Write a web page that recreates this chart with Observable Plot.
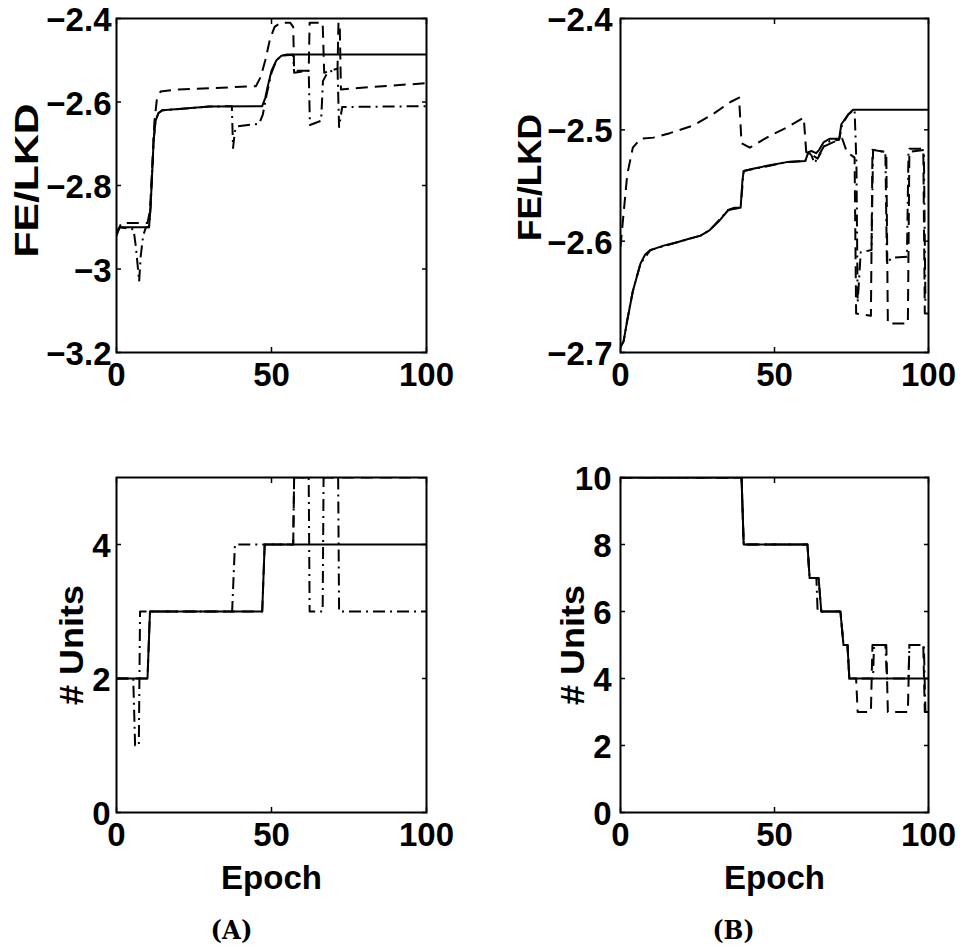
<!DOCTYPE html>
<html><head><meta charset="utf-8">
<script src="https://cdn.jsdelivr.net/npm/d3@7"></script>
<script src="https://cdn.jsdelivr.net/npm/@observablehq/plot@0.6"></script>
<style>
body{margin:0;background:#fff;}
#fig{position:relative;width:960px;height:946px;background:#fff;overflow:hidden;}
#fig svg{position:absolute;overflow:visible;}
</style></head><body><div id="fig"></div>
<script>
// ---- data: [epoch, value] ----
const xTicks = [0, 50, 100];
const feTicksA = [-3.2, -3, -2.8, -2.6, -2.4];
const feTicksB = [-2.7, -2.6, -2.5, -2.4];
const unitTicksA = [0, 2, 4];
const unitTicksB = [0, 2, 4, 6, 8, 10];

const feA_solid = [[0,-2.915],[1,-2.90],[10.5,-2.90],[11,-2.85],[11.5,-2.77],[12,-2.69],[12.6,-2.645],[13.5,-2.627],[14.7,-2.62],[20,-2.617],[25,-2.614],[30,-2.611],[47,-2.61],[48,-2.59],[48.7,-2.565],[50,-2.525],[51.6,-2.50],[53.2,-2.489],[55,-2.486],[100,-2.486]];
const feA_dashed = [[0,-2.92],[1.5,-2.89],[10,-2.89],[10.8,-2.86],[11.5,-2.76],[12.2,-2.65],[13,-2.595],[14.2,-2.575],[20,-2.57],[30,-2.567],[45,-2.562],[46.5,-2.54],[48,-2.50],[49.5,-2.45],[51,-2.42],[53,-2.41],[56,-2.41],[57,-2.42],[57.3,-2.525],[62,-2.525],[62.3,-2.41],[66.5,-2.41],[67,-2.53],[71.3,-2.52],[71.6,-2.41],[72,-2.41],[72.4,-2.57],[80,-2.565],[100,-2.555]];
const feA_dashdot = [[0,-2.91],[1,-2.90],[5.5,-2.905],[6.3,-2.95],[7.3,-3.03],[7.8,-2.97],[8.6,-2.92],[9.5,-2.90],[10.5,-2.90],[11,-2.85],[11.5,-2.77],[12,-2.69],[12.6,-2.645],[13.5,-2.627],[14.7,-2.62],[30,-2.611],[37.2,-2.61],[37.6,-2.71],[38.2,-2.67],[39,-2.658],[46,-2.652],[47.2,-2.63],[48.5,-2.58],[50,-2.53],[51.6,-2.50],[53.2,-2.489],[57,-2.487],[57.3,-2.53],[62,-2.525],[62.4,-2.655],[66,-2.645],[66.6,-2.55],[68,-2.53],[71.3,-2.52],[71.8,-2.66],[72.8,-2.612],[100,-2.61]];

const unA_solid = [[0,2],[10,2],[10.8,3],[47,3],[47.8,4],[100,4]];
const unA_dashed = [[0,2],[10,2],[10.8,3],[47,3],[47.8,4],[57,4],[57.3,5],[62,5],[62.3,6],[66.5,6],[67,5],[71.5,5],[71.8,6],[72.2,5],[100,5]];
const unA_dashdot = [[0,2],[5.4,2],[6,1],[7.2,1],[7.6,3],[37.3,3],[38.2,4],[57,4],[57.3,5],[62,5],[62.3,3],[66.5,3],[66.8,5],[71.5,5],[71.8,3],[100,3]];

const feB_solid = [[0,-2.695],[1,-2.69],[2.2,-2.671],[4,-2.645],[6.5,-2.62],[8,-2.612],[9.7,-2.608],[14,-2.604],[18.4,-2.601],[22,-2.598],[26,-2.595],[29,-2.59],[32,-2.582],[35,-2.572],[37,-2.570],[39,-2.57],[39.6,-2.545],[40,-2.537],[43,-2.535],[48,-2.532],[54,-2.529],[60,-2.528],[61,-2.52],[62,-2.519],[63.5,-2.521],[64.5,-2.518],[66,-2.511],[68,-2.508],[71,-2.508],[71.7,-2.495],[73,-2.49],[74,-2.486],[75.5,-2.482],[100,-2.482]];
const feB_dashed = [[0,-2.605],[1,-2.575],[2.2,-2.54],[4,-2.516],[6.5,-2.508],[10.7,-2.507],[16,-2.503],[23.7,-2.496],[30,-2.486],[35.7,-2.475],[38.5,-2.471],[39.3,-2.512],[42,-2.516],[48.7,-2.505],[54,-2.498],[59.5,-2.489],[60.3,-2.52],[62,-2.522],[64,-2.526],[66,-2.515],[70,-2.51],[72,-2.508],[73.5,-2.52],[76,-2.525],[76.5,-2.665],[81.3,-2.667],[81.8,-2.518],[86.3,-2.52],[86.8,-2.674],[93.3,-2.674],[93.8,-2.517],[98.3,-2.517],[98.8,-2.665],[100,-2.665]];
const feB_dashdot = [[0,-2.695],[1,-2.69],[2.2,-2.671],[4,-2.645],[6.5,-2.62],[9.7,-2.608],[18.4,-2.601],[26,-2.595],[29,-2.59],[35,-2.572],[39,-2.57],[40,-2.537],[54,-2.529],[60,-2.528],[61,-2.52],[62,-2.523],[63,-2.53],[64,-2.525],[66,-2.515],[68,-2.51],[71,-2.509],[72,-2.495],[74,-2.486],[76,-2.482],[76.6,-2.53],[77,-2.655],[78,-2.61],[81.5,-2.608],[82,-2.518],[86,-2.52],[86.5,-2.62],[88,-2.615],[93,-2.614],[93.5,-2.52],[98.5,-2.518],[99,-2.655],[100,-2.655]];

const unB_solid = [[0,10],[39.3,10],[40,8],[60.7,8],[61.4,7],[64.3,7],[65.2,6],[71.4,6],[72.4,5],[73.7,5],[74.3,4],[100,4]];
const unB_dashed = [[0,10],[39.3,10],[40,8],[60.7,8],[61.4,7],[64.3,7],[65.2,6],[71.4,6],[72.4,5],[73.7,5],[74.3,4],[76.5,4],[77,3],[81.3,3],[81.8,5],[86.3,5],[86.8,3],[93.3,3],[93.8,5],[98.3,5],[98.8,3],[100,3]];
const unB_dashdot = [[0,10],[39.3,10],[40,8],[60.7,8],[61.4,7],[63.6,7],[64.0,6],[71.4,6],[72.4,5],[73.7,5],[74.3,4],[82,4],[82.3,5],[86,5],[86.5,4],[93.5,4],[93.8,5],[98.5,5],[99,3],[100,3]];

// ---- drawing ----
const FONT = "'Liberation Sans', Arial, Helvetica, sans-serif";
const DASH = "12,7", DASHDOT = "12,5,2,5";
const fmt = d => d < 0 ? "\u2212" + Math.abs(d) : String(d);
const fig = document.getElementById("fig");

function fitText(svg, content, len) {
  d3.select(svg).selectAll("text").filter(function() { return this.textContent === content; })
    .attr("textLength", len).attr("lengthAdjust", "spacingAndGlyphs");
}

function panel(o) {
  const marks = [];
  const series = [[o.solid, null], [o.dashed, DASH], [o.dashdot, DASHDOT]];
  for (const [data, dash] of series) {
    marks.push(Plot.line(data, {x: d => d[0], y: d => d[1], stroke: "black", strokeWidth: 2,
      strokeDasharray: dash, strokeLinecap: dash ? "butt" : "round", clip: true}));
  }
  marks.push(Plot.frame({stroke: "black", strokeWidth: 2}));
  // inward tick marks on all four sides
  for (const a of ["bottom", "top"]) marks.push(Plot.axisX({anchor: a, ticks: xTicks, tickSize: -5, tickFormat: () => "", label: null, strokeWidth: 1.5}));
  for (const a of ["left", "right"]) marks.push(Plot.axisY({anchor: a, ticks: o.yTicks, tickSize: -5, tickFormat: () => "", label: null, strokeWidth: 1.5}));
  // tick labels
  marks.push(Plot.axisX({anchor: "bottom", ticks: xTicks, tickSize: 0, tickPadding: 10, tickFormat: fmt, label: null,
    fontSize: 33, fontWeight: "bold", fontFamily: FONT, fill: "black"}));
  marks.push(Plot.axisY({anchor: "left", ticks: o.yTicks, tickSize: 0, tickPadding: o.yPad, tickFormat: fmt, label: null,
    fontSize: 33, fontWeight: "bold", fontFamily: FONT, fill: "black", dy: 2}));
  // y label (start-anchored so textLength keeps it centred)
  marks.push(Plot.text([o.ylab], {frameAnchor: "left", rotate: -90, textAnchor: "start",
    dx: o.ylabDx, dy: o.ylabDy + o.ylabLen / 2, text: d => d,
    fontSize: 33, fontWeight: "bold", fontFamily: FONT, fill: "black"}));
  if (o.xlab) {
    marks.push(Plot.text([o.xlab], {frameAnchor: "bottom", dy: 53, lineAnchor: "top", text: d => d,
      fontSize: 33, fontWeight: "bold", fontFamily: FONT, fill: "black"}));
  }
  if (o.tag) {
    marks.push(Plot.text([o.tag], {frameAnchor: "bottom", textAnchor: "start", dx: o.tagDx - 21, dy: 108, lineAnchor: "top", text: d => d,
      fontSize: 26, fontWeight: "bold", fontFamily: "'DejaVu Serif', serif", fill: "black"}));
  }
  const svg = Plot.plot({
    width: o.w, height: o.h,
    marginLeft: o.mL, marginRight: o.mR, marginTop: o.mT, marginBottom: o.mB,
    x: {domain: [0, 100]},
    y: {domain: o.yDomain},
    style: {background: "white", overflow: "visible"},
    marks
  });
  fitText(svg, o.ylab, o.ylabLen);
  if (o.tag) fitText(svg, o.tag, 42);
  svg.style.left = o.left + "px";
  svg.style.top = o.top + "px";
  fig.appendChild(svg);
}

panel({left: 0, top: 0, w: 480, h: 420, mL: 116, mR: 54, mT: 18, mB: 68,
  solid: feA_solid, dashed: feA_dashed, dashdot: feA_dashdot,
  yDomain: [-3.2, -2.4], yTicks: feTicksA, yPad: 5,
  ylab: "FE/LKD", ylabDx: -89, ylabDy: -5, ylabLen: 154});
panel({left: 480, top: 0, w: 480, h: 420, mL: 140, mR: 32, mT: 18, mB: 68,
  solid: feB_solid, dashed: feB_dashed, dashdot: feB_dashdot,
  yDomain: [-2.7, -2.4], yTicks: feTicksB, yPad: 8,
  ylab: "FE/LKD", ylabDx: -90, ylabDy: -8, ylabLen: 127});
panel({left: 0, top: 420, w: 480, h: 526, mL: 116, mR: 54, mT: 57, mB: 134,
  solid: unA_solid, dashed: unA_dashed, dashdot: unA_dashdot,
  yDomain: [0, 5], yTicks: unitTicksA, yPad: 6,
  ylab: "# Units", ylabDx: -44, ylabDy: 0, ylabLen: 120,
  xlab: "Epoch", tag: "(A)", tagDx: -40});
panel({left: 480, top: 420, w: 480, h: 526, mL: 140, mR: 32, mT: 57, mB: 134,
  solid: unB_solid, dashed: unB_dashed, dashdot: unB_dashdot,
  yDomain: [0, 10], yTicks: unitTicksB, yPad: 9,
  ylab: "# Units", ylabDx: -47, ylabDy: 0, ylabLen: 120,
  xlab: "Epoch", tag: "(B)", tagDx: -41});
</script>
</body></html>
